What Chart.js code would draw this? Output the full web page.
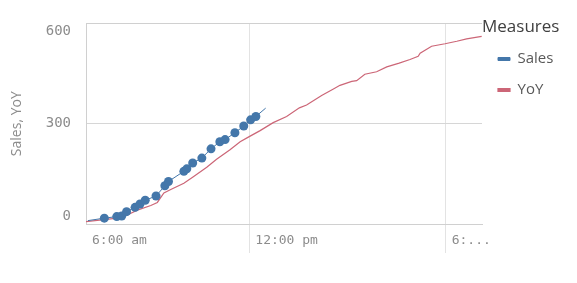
<!DOCTYPE html>
<html>
<head>
<meta charset="utf-8">
<script src="https://cdn.jsdelivr.net/npm/chart.js@4.4.0/dist/chart.umd.min.js"></script>
<style>
  html, body { margin: 0; padding: 0; background: #fff; }
</style>
</head>
<body>
<canvas id="canvas" width="577" height="283"></canvas>
<script>
// time of day in decimal hours, running totals
var salesHours = [7.07, 7.57, 7.95, 8.10, 8.25, 8.51, 8.66, 8.82, 9.15, 9.42, 9.53, 10.00, 10.09, 10.27, 10.55, 10.83, 11.10, 11.26, 11.56, 11.83, 12.04, 12.20, 12.50];
var salesValues = [-15, -7, -2, 0, 14, 28, 39, 51, 65, 98, 112, 145, 153, 172, 188, 218, 241, 248, 270, 292, 312, 323, 350];

var yoyHours = [7.01, 7.56, 7.97, 8.27, 8.58, 8.99, 9.19, 9.39, 9.60, 10.00, 10.29, 10.70, 11.00, 11.41, 11.72, 11.97, 12.33, 12.73, 13.14, 13.53, 13.75, 14.21, 14.57, 14.77, 15.13, 15.28, 15.53, 15.89, 16.20, 16.58, 16.91, 17.16, 17.22, 17.57, 17.98, 18.34, 18.64, 19.10];
var yoyValues = [-18, -12, -7, 3, 19, 34, 44, 75, 86, 106, 127, 158, 184, 215, 241, 256, 277, 303, 323, 351, 360, 391, 412, 424, 437, 439, 460, 468, 484, 496, 508, 518, 528, 551, 559, 567, 575, 583];

var yTicks = [0, 300, 600];
var xTickHours = [6, 12, 18];
var xTickLabels = ['6:00 am', '12:00 pm', '6:...'];

function points(xs, ys) {
  return xs.map(function (x, i) { return { x: x, y: ys[i] }; });
}

// legend box is as wide as the space right of the plot
var legendWidth = {
  id: 'legendWidth',
  beforeLayout: function (chart) {
    var lg = chart.legend;
    if (lg && !lg._fixed) {
      var fit = lg.fit;
      lg.fit = function () { fit.call(this); this.width = 95; };
      lg._fixed = true;
    }
  }
};

var topLine = {
  id: 'topLine',
  beforeDatasetsDraw: function (chart) {
    var a = chart.chartArea, c = chart.ctx;
    c.save();
    c.strokeStyle = '#d0d0d0';
    c.lineWidth = 1;
    c.beginPath();
    c.moveTo(a.left, Math.round(a.top) + 0.5);
    c.lineTo(a.right, Math.round(a.top) + 0.5);
    c.stroke();
    c.restore();
  }
};

var lastSales = salesHours.length - 1;

const ctx = document.getElementById('canvas').getContext('2d');
const myChart = new Chart(ctx, {
  type: 'line',
  data: {
    datasets: [{
      label: 'Sales',
      data: points(salesHours, salesValues),
      borderColor: '#4477aa',
      backgroundColor: '#4477aa',
      borderWidth: 1,
      pointRadius: function (c) { return (c.dataIndex === 0 || c.dataIndex === lastSales) ? 0 : 4.5; },
      pointBorderWidth: 0,
      pointBackgroundColor: '#4477aa'
    }, {
      label: 'YoY',
      data: points(yoyHours, yoyValues),
      borderColor: '#cc6677',
      backgroundColor: '#cc6677',
      borderWidth: 1.2,
      pointRadius: 0
    }]
  },
  options: {
    responsive: false,
    animation: false,
    layout: { padding: { top: 15, right: 0, bottom: 0, left: 0 } },
    scales: {
      x: {
        type: 'linear',
        min: 7.01,
        max: 19.11,
        afterBuildTicks: function (s) {
          s.ticks = xTickHours.map(function (h) { return { value: Math.max(h, s.min) }; });
        },
        afterFit: function (s) { s.height = 59; },
        grid: {
          color: function (c) { return (c.tick && c.tick.value > 7.02) ? '#e3e3e3' : 'transparent'; },
          tickLength: 29
        },
        border: { color: '#d0d0d0' },
        ticks: {
          align: 'start',
          labelOffset: 6,
          padding: -20,
          autoSkip: false,
          maxRotation: 0,
          color: '#8c8c8c',
          font: { family: 'DejaVu Sans Mono', size: 13 },
          callback: function (v, i) { return xTickLabels[i]; }
        }
      },
      y: {
        min: -26,
        max: 625,
        afterBuildTicks: function (s) {
          s.ticks = yTicks.map(function (v) { return { value: v }; });
        },
        afterFit: function (s) { s.width = 86; },
        grid: {
          drawTicks: false,
          color: function (c) { return (c.tick && c.tick.value === 300) ? '#d6d6d6' : 'transparent'; }
        },
        border: { color: '#d0d0d0' },
        ticks: {
          padding: 15,
          color: '#8c8c8c',
          font: { family: 'DejaVu Sans Mono', size: 14 }
        },
        title: {
          display: true,
          text: 'Sales, YoY',
          color: '#8c8c8c',
          font: { family: 'Open Sans', size: 14 },
          padding: { top: 9 }
        }
      }
    },
    plugins: {
      tooltip: { enabled: false },
      legend: {
        position: 'right',
        align: 'start',
        title: {
          display: true,
          text: 'Measures',
          position: 'start',
          color: '#404040',
          font: { family: 'Open Sans', size: 17, lineHeight: 1 },
          padding: { top: 3.5, bottom: 0 }
        },
        labels: {
          boxWidth: 12,
          boxHeight: 3,
          padding: 16,
          color: '#595959',
          font: { family: 'Open Sans', size: 15 }
        }
      }
    }
  },
  plugins: [legendWidth, topLine]
});
</script>
</body>
</html>
